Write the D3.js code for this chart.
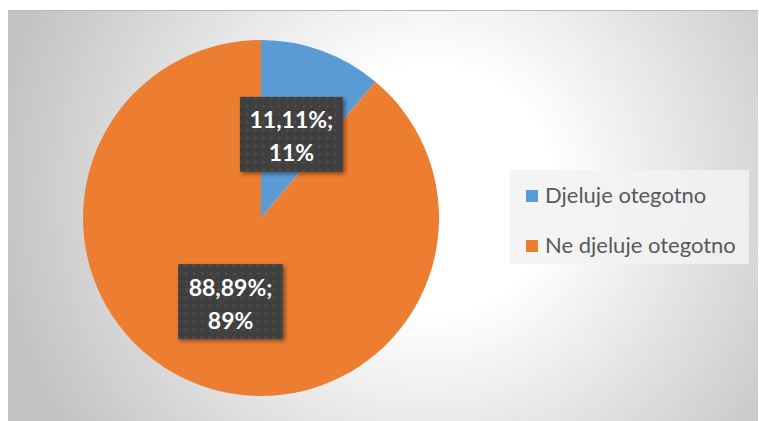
<!DOCTYPE html>
<html>
<head>
<meta charset="utf-8">
<script src="https://cdn.jsdelivr.net/npm/d3@7"></script>
<style>
  body { margin: 0; background: #fff; }
  svg { display: block; }
</style>
</head>
<body>
<svg id="chart" width="759" height="421"></svg>
<script>
// data
var categories = ["Djeluje otegotno", "Ne djeluje otegotno"];
var values = [11.11, 88.89];
var labelLines = [["11,11%;", "11%"], ["88,89%;", "89%"]];
var colors = ["#5B9BD5", "#ED7D31"];

var svg = d3.select("#chart");
var defs = svg.append("defs");

// background gradient
var grad = defs.append("radialGradient")
    .attr("id", "bg")
    .attr("gradientUnits", "userSpaceOnUse")
    .attr("cx", 430).attr("cy", 190).attr("r", 440);
grad.append("stop").attr("offset", "0%").attr("stop-color", "#ffffff");
grad.append("stop").attr("offset", "28%").attr("stop-color", "#ffffff");
grad.append("stop").attr("offset", "100%").attr("stop-color", "#c2c2c2");

// dotted pattern for label boxes
var pat = defs.append("pattern")
    .attr("id", "dots")
    .attr("patternUnits", "userSpaceOnUse")
    .attr("width", 8).attr("height", 8);
pat.append("rect").attr("width", 8).attr("height", 8).attr("fill", "#404040");
pat.append("rect").attr("x", 3).attr("y", 3).attr("width", 2).attr("height", 2).attr("fill", "#555555");

var shadow = defs.append("filter").attr("id", "shadow")
    .attr("x", "-20%").attr("y", "-20%").attr("width", "150%").attr("height", "150%");
shadow.append("feDropShadow")
    .attr("dx", 2).attr("dy", 2).attr("stdDeviation", 2)
    .attr("flood-color", "#000").attr("flood-opacity", 0.45);

svg.append("rect")
    .attr("x", 8).attr("y", 10)
    .attr("width", 750).attr("height", 411)
    .attr("fill", "url(#bg)");
svg.append("line")
    .attr("x1", 8).attr("x2", 758).attr("y1", 10.5).attr("y2", 10.5)
    .attr("stroke", "#b8b8b8").attr("stroke-width", 1);

// pie
var cx = 261, cy = 218, radius = 178;
var pie = d3.pie().sort(null).value(d => d);
var arc = d3.arc().innerRadius(0).outerRadius(radius);
var arcs = pie(values);

var g = svg.append("g").attr("transform", `translate(${cx},${cy})`);
g.selectAll(".slice")
    .data(arcs)
    .join("path")
    .attr("class", "slice")
    .attr("d", arc)
    .attr("fill", (d, i) => colors[i]);

// data labels, centred on the slice centroid
var boxW = [103, 105], boxH = 75;
var labels = g.selectAll(".lbl")
    .data(arcs)
    .join("g")
    .attr("class", "lbl")
    .attr("transform", d => `translate(${arc.centroid(d)})`);
labels.append("rect")
    .attr("x", (d, i) => -boxW[i] / 2)
    .attr("y", -boxH / 2)
    .attr("width", (d, i) => boxW[i])
    .attr("height", boxH)
    .attr("fill", "url(#dots)")
    .attr("filter", "url(#shadow)");
labels.each(function(d, i) {
    var t = d3.select(this).append("text")
        .attr("text-anchor", "middle")
        .attr("fill", "#ffffff")
        .style("font-family", "Lato, 'Open Sans', sans-serif")
        .style("font-weight", "bold")
        .style("font-size", "23px");
    labelLines[i].forEach((s, k) => {
        t.append("tspan").attr("x", 0).attr("y", -6 + k * 33).text(s);
    });
});

// legend
var legend = svg.append("g").attr("transform", "translate(510,170)");
legend.append("rect")
    .attr("width", 239).attr("height", 94)
    .attr("fill", "#f2f2f2").attr("fill-opacity", 0.85);
var rows = legend.selectAll(".row")
    .data(categories)
    .join("g")
    .attr("class", "row")
    .attr("transform", (d, i) => `translate(0,${26 + i * 50})`);
rows.append("rect")
    .attr("x", 16).attr("y", -6)
    .attr("width", 12).attr("height", 12)
    .attr("fill", (d, i) => colors[i]);
rows.append("text")
    .attr("x", 35).attr("y", 7)
    .attr("fill", "#595959")
    .style("font-family", "Lato, 'Open Sans', sans-serif")
    .style("font-size", "22px")
    .text(d => d);
</script>
</body>
</html>
